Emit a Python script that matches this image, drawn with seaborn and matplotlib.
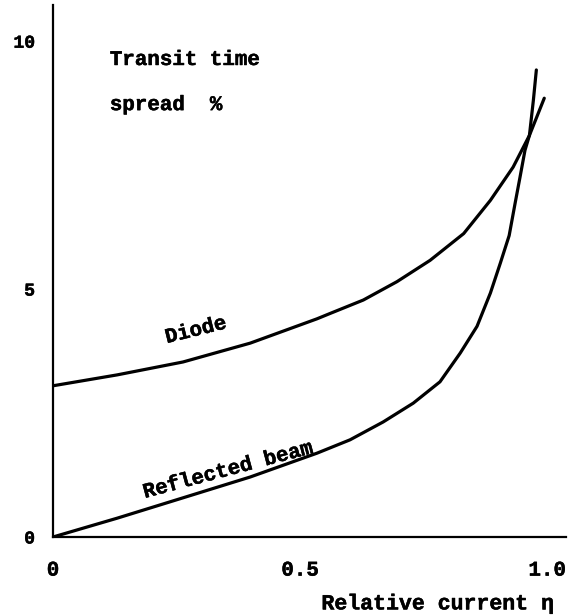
import matplotlib
matplotlib.use("Agg")
import matplotlib.pyplot as plt
import matplotlib.patheffects as pe
import seaborn as sns
import pandas as pd

# Data
diode_x = [0.0, 0.130, 0.263, 0.399, 0.534, 0.561, 0.628, 0.696, 0.763, 0.831,
           0.885, 0.931, 0.964, 0.994]
diode_y = [3.05, 3.27, 3.53, 3.91, 4.40, 4.51, 4.78, 5.15, 5.58, 6.12,
           6.79, 7.46, 8.10, 8.85]
refl_x = [0.0, 0.130, 0.263, 0.399, 0.534, 0.601, 0.668, 0.729, 0.783, 0.824,
          0.858, 0.885, 0.905, 0.923, 0.935, 0.945, 0.955, 0.964, 0.972, 0.978]
refl_y = [0.0, 0.38, 0.79, 1.21, 1.69, 1.96, 2.32, 2.70, 3.13, 3.71,
          4.25, 4.92, 5.52, 6.08, 6.73, 7.26, 7.80, 8.10, 8.81, 9.42]
x_ticks = [0, 0.5, 1.0]
x_tick_labels = ["0", "0.5", "1.0"]
y_ticks = [0, 5, 10]
y_tick_labels = ["0", "5", "10"]

sns.set_theme(style="white")
FONT = ["Liberation Mono", "DejaVu Sans Mono"]
plt.rcParams["font.family"] = FONT
plt.rcParams["font.weight"] = "bold"

df = pd.concat([
    pd.DataFrame({"x": diode_x, "y": diode_y, "series": "Diode"}),
    pd.DataFrame({"x": refl_x, "y": refl_y, "series": "Reflected beam"}),
])

fig = plt.figure(figsize=(5.7, 6.15), dpi=100)
ax = fig.add_axes([53 / 570, 78 / 615, 513 / 570, 532 / 615])

sns.lineplot(data=df, x="x", y="y", units="series", estimator=None,
             color="black", linewidth=2.3, ax=ax, legend=False)

ax.set_xlim(0, 1.038)
ax.set_ylim(0, 10.73)
for s in ["top", "right"]:
    ax.spines[s].set_visible(False)
for s in ["left", "bottom"]:
    ax.spines[s].set_color("black")
    ax.spines[s].set_linewidth(1.6)

thick = [pe.withStroke(linewidth=0.35, foreground="black")]

ax.set_xticks(x_ticks)
ax.set_xticklabels(x_tick_labels)
ax.set_yticks(y_ticks)
ax.set_yticklabels(y_tick_labels)
ax.tick_params(axis="both", direction="inout", length=9, width=1.4,
               color="black", labelcolor="black")
ax.tick_params(axis="y", pad=8.5, labelsize=13)
ax.tick_params(axis="x", pad=12.5, labelsize=15)
for lab in ax.get_xticklabels() + ax.get_yticklabels():
    lab.set_path_effects(thick)
ax.set_ylabel("")
ax.set_xlabel("Relative current η", fontsize=15.5, fontweight="bold",
              color="black", loc="right", path_effects=thick)
ax.xaxis.set_label_coords(0.975, -0.106)

txt_kw = dict(fontsize=15, fontweight="bold", color="black", path_effects=thick)
ax.text(0.115, 9.52, "Transit time", ha="left", va="baseline", **txt_kw)
ax.text(0.115, 8.61, "spread  %", ha="left", va="baseline", **txt_kw)
ax.text(0.289, 4.17, "Diode", rotation=14, ha="center", va="center", **txt_kw)
ax.text(0.354, 1.35, "Reflected beam", rotation=15, ha="center", va="center",
        **txt_kw)

fig.savefig("out.png", dpi=100)
